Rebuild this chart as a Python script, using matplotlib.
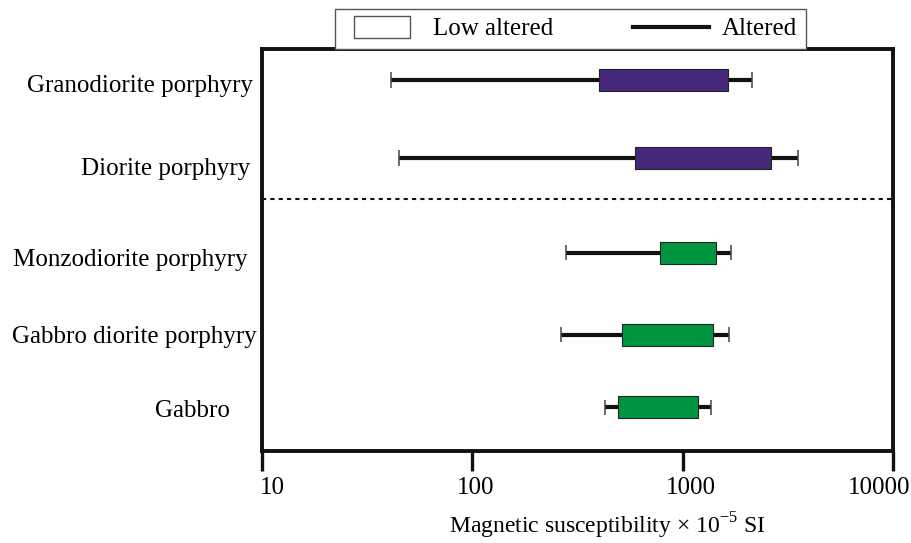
import matplotlib
matplotlib.use('Agg')
import matplotlib.pyplot as plt
from matplotlib.lines import Line2D
from matplotlib.path import Path
from matplotlib.transforms import ScaledTranslation

plt.rcParams['font.family'] = ['Liberation Serif', 'DejaVu Serif']
plt.rcParams['mathtext.fontset'] = 'custom'
plt.rcParams['mathtext.rm'] = 'Liberation Serif'
plt.rcParams['font.size'] = 18

# rock types, top to bottom
rocks = ['Granodiorite porphyry', 'Diorite porphyry', 'Monzodiorite porphyry',
         'Gabbro diorite porphyry', 'Gabbro']
# magnetic susceptibility (x 10^-5 SI)
altered_min = [41, 45, 280, 265, 428]
low_altered_min = [399, 593, 780, 516, 490]
low_altered_max = [1648, 2633, 1436, 1389, 1186]
altered_max = [2132, 3540, 1698, 1661, 1364]
groups = ['porphyry', 'porphyry', 'basic', 'basic', 'basic']
xticks = [10, 100, 1000, 10000]

rows = [0.77, 2.71, 5.07, 7.11, 8.91]
divider = 3.73
group_colors = {'porphyry': '#46287a', 'basic': '#00963f'}
# small hand nudges (pixels) of the labels, as in the original figure
xlabel_shift = [10, 3, 8, -14]
ylabel_shift = [(2, -4), (-1, -9), (-3, -5), (6, 0), (-21, -1)]

fig = plt.figure(figsize=(9.12, 5.43), dpi=100)
ax = fig.add_axes([0.2873, 0.1694, 0.6919, 0.7403])

ax.hlines(rows, altered_min, altered_max, color='#111111', linewidth=3.0, zorder=2)
caps_x = altered_min + altered_max
caps_y = rows + rows
ax.vlines(caps_x, [y - 0.19 for y in caps_y], [y + 0.19 for y in caps_y],
          color='#444444', linewidth=1.1, zorder=2)
widths = [hi - lo for lo, hi in zip(low_altered_min, low_altered_max)]
ax.barh(rows, widths, left=low_altered_min, height=0.535,
        color=[group_colors[g] for g in groups], edgecolor='#222222',
        linewidth=0.8, zorder=3)

ax.axhline(divider, color='#111111', linewidth=1.5, linestyle=(0, (2, 2)), zorder=1)

ax.set_xscale('log')
ax.set_xlim(10, 10000)
ax.set_ylim(10, 0)
ax.set_xticks(xticks)
ax.set_xticklabels([str(t) for t in xticks])
ax.xaxis.set_minor_locator(matplotlib.ticker.NullLocator())
ax.tick_params(axis='x', direction='out', length=14.4, width=2.4, pad=4,
               color='#111111')
ax.set_yticks(rows)
ax.set_yticklabels(rocks)
ax.tick_params(axis='y', length=0, pad=8)
for sp in ax.spines.values():
    sp.set_linewidth(2.8)
    sp.set_color('#111111')

for lab, dx in zip(ax.get_xticklabels(), xlabel_shift):
    lab.set_transform(lab.get_transform() + ScaledTranslation(dx / 100, 0, fig.dpi_scale_trans))
for lab, (dx, dy) in zip(ax.get_yticklabels(), ylabel_shift):
    lab.set_transform(lab.get_transform() + ScaledTranslation(dx / 100, dy / 100, fig.dpi_scale_trans))

ax.set_xlabel(r'Magnetic susceptibility $\times$ 10$^{-5}$ SI', va='center', fontsize=17)
ax.xaxis.set_label_coords(0.547, -0.187)

rect = Path([(-1.25, -0.5), (1.25, -0.5), (1.25, 0.5), (-1.25, 0.5), (-1.25, -0.5)],
            [Path.MOVETO, Path.LINETO, Path.LINETO, Path.LINETO, Path.CLOSEPOLY])
handles = [
    Line2D([], [], linestyle='none', marker=rect, markersize=40,
           markerfacecolor='white', markeredgecolor='#555555', markeredgewidth=1.0),
    Line2D([], [], color='#111111', linewidth=3.0),
]
leg = ax.legend(handles, ['Low altered', 'Altered'], ncol=2, loc='lower left',
                bbox_to_anchor=(0.1157, 1.0), borderaxespad=0, borderpad=0.35,
                handlelength=3.05, handletextpad=0.5, columnspacing=3.2,
                numpoints=1, fancybox=False, framealpha=1, frameon=True)
leg.get_frame().set_edgecolor('#555555')
leg.get_frame().set_linewidth(1.0)

fig.savefig('out.png', dpi=100)
